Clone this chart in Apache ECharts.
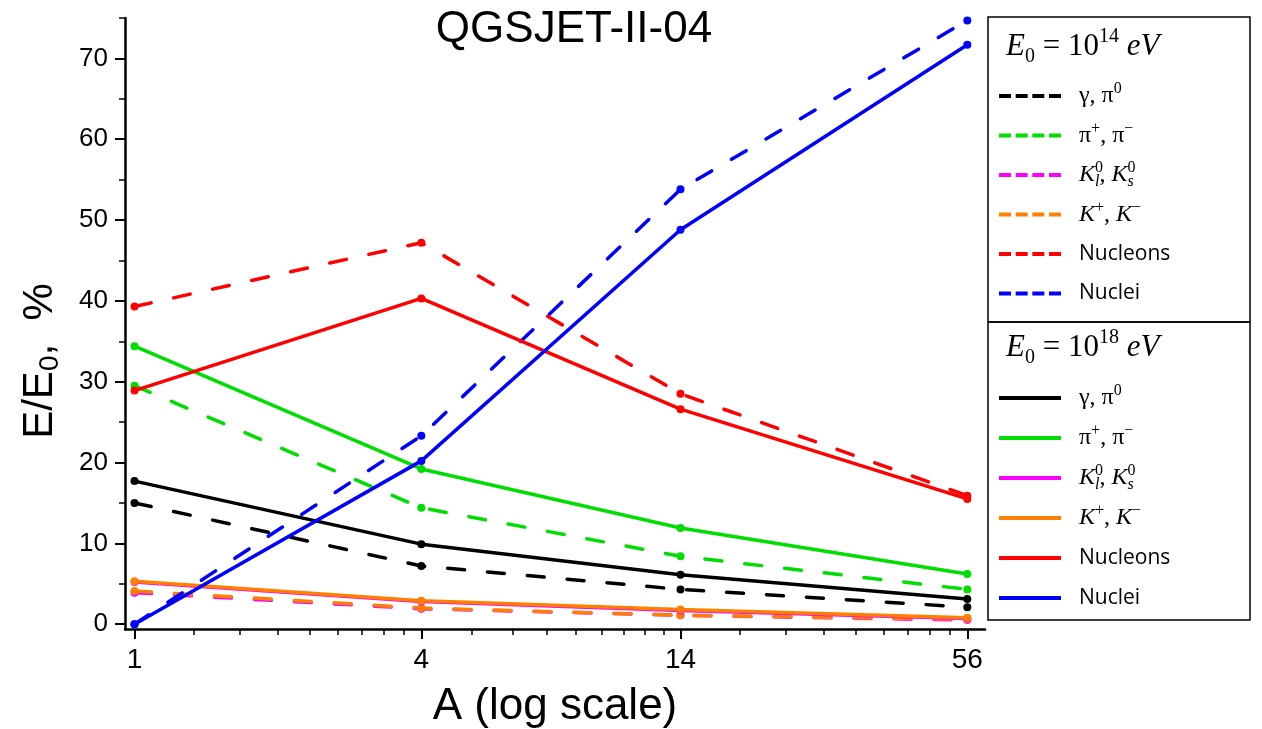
<!DOCTYPE html>
<html>
<head>
<meta charset="utf-8">
<script src="https://cdn.jsdelivr.net/npm/echarts@6/dist/echarts.min.js"></script>
<style>
html,body{margin:0;padding:0;background:#fff;}
#chart{width:1262px;height:729px;}
</style>
</head>
<body>
<div id="chart"></div>
<script>
// ---- data ----
const massNumbers = [1, 4, 14, 56];
const xTickValues = [1, 4, 14, 56];
const yTickValues = [0, 10, 20, 30, 40, 50, 60, 70];
const yMinorTickValues = [5, 15, 25, 35, 45, 55, 65, 75];

// E0 = 1e14 eV (dashed)
const gamma14 = [15.0, 7.2, 4.3, 2.1];
const pion14 = [29.5, 14.4, 8.4, 4.3];
const kaon0_14 = [3.9, 1.9, 1.1, 0.5];
const kaonC_14 = [4.1, 2.0, 1.1, 0.6];
const nucleons14 = [39.3, 47.2, 28.5, 15.9];
const nuclei14 = [0.0, 23.3, 53.8, 74.7];

// E0 = 1e18 eV (solid)
const gamma18 = [17.7, 9.9, 6.1, 3.1];
const pion18 = [34.4, 19.2, 11.9, 6.2];
const kaon0_18 = [5.2, 2.8, 1.7, 0.7];
const kaonC_18 = [5.3, 2.9, 1.8, 0.8];
const nucleons18 = [28.9, 40.3, 26.6, 15.5];
const nuclei18 = [0.0, 20.2, 48.8, 71.7];

const speciesKeys = ['g', 'pi', 'k0', 'kc', 'nucleons', 'nuclei'];
const speciesColors = ['#000000', '#00dd00', '#ff00ff', '#ff8000', '#ff0000', '#0000ff'];
const speciesLabels = [
  '{s|γ, π}{sup|0}',
  '{s|π}{sup|+}{s|, π}{sup|−}',
  '{i|K}{supz|0}{sub|l}{s|, }{i|K}{supz|0}{sub|s}',
  '{i|K}{sup|+}{s|, }{i|K}{sup|−}',
  '{ss|Nucleons}',
  '{ss|Nuclei}'
];
const data14 = [gamma14, pion14, kaon0_14, kaonC_14, nucleons14, nuclei14];
const data18 = [gamma18, pion18, kaon0_18, kaonC_18, nucleons18, nuclei18];

// ---- build ----
// minor x ticks: 9 linear subdivisions between consecutive major ticks (as in the figure)
const xMinorTickValues = [];
for (let i = 0; i < xTickValues.length - 1; i++) {
  const a = xTickValues[i], b = xTickValues[i + 1];
  for (let k = 1; k < 9; k++) xMinorTickValues.push(a + (b - a) * k / 9);
}

const dashPath = 'path://M0,0H12V4H0Z M16.67,0H28.67V4H16.67Z M33.33,0H45.33V4H33.33Z M50,0H62V4H50Z';
const labelMap = {};
const series = [];
function addSeries(vals, key, idx, suffix, dashed) {
  const name = key + suffix;
  labelMap[name] = speciesLabels[idx];
  series.push({
    name: name,
    type: 'line',
    xAxisIndex: 0,
    yAxisIndex: 0,
    data: massNumbers.map((a, i) => [a, vals[i]]),
    symbol: 'circle',
    symbolSize: 8,
    showSymbol: true,
    silent: true,
    animation: false,
    itemStyle: { color: speciesColors[idx] },
    lineStyle: {
      color: speciesColors[idx],
      width: 3.5,
      type: dashed ? [17, 23] : 'solid',
      cap: dashed ? 'round' : 'butt'
    },
    z: dashed ? 2 : 3
  });
}
speciesKeys.forEach((k, i) => addSeries(data14[i], k, i, '14', true));
speciesKeys.forEach((k, i) => addSeries(data18[i], k, i, '18', false));

const legendRich = {
  s: { fontFamily: 'Liberation Serif', fontSize: 24, lineHeight: 30, color: '#000', verticalAlign: 'middle' },
  i: { fontFamily: 'Liberation Serif', fontStyle: 'italic', fontSize: 24, lineHeight: 30, color: '#000', verticalAlign: 'middle' },
  sup: { fontFamily: 'Liberation Serif', fontSize: 16, lineHeight: 16, color: '#000', verticalAlign: 'top' },
  supz: { fontFamily: 'Liberation Serif', fontSize: 16, lineHeight: 16, width: 0, color: '#000', verticalAlign: 'top' },
  sub: { fontFamily: 'Liberation Serif', fontStyle: 'italic', fontSize: 16, lineHeight: 16, color: '#000', verticalAlign: 'bottom' },
  ss: { fontFamily: 'Open Sans', fontSize: 21, lineHeight: 30, color: '#000', verticalAlign: 'middle' }
};

function makeLegend(suffix, top, gap, iconFor) {
  return {
    orient: 'vertical',
    left: 999,
    top: top,
    padding: 0,
    itemWidth: 62,
    itemHeight: 4,
    itemGap: gap,
    selectedMode: false,
    data: speciesKeys.map(k => ({ name: k + suffix, icon: iconFor })),
    formatter: name => labelMap[name],
    textStyle: { color: '#000', padding: [0, 0, 0, 13], height: 30, lineHeight: 30, rich: legendRich }
  };
}

const headRich = {
  i: { fontFamily: 'Liberation Serif', fontStyle: 'italic', fontSize: 31, lineHeight: 40, color: '#000', verticalAlign: 'middle' },
  n: { fontFamily: 'Liberation Serif', fontSize: 31, lineHeight: 40, color: '#000', verticalAlign: 'middle' },
  sup: { fontFamily: 'Liberation Serif', fontSize: 20, lineHeight: 20, color: '#000', verticalAlign: 'top' },
  sub: { fontFamily: 'Liberation Serif', fontSize: 20, lineHeight: 20, color: '#000', verticalAlign: 'bottom' }
};

const chart = echarts.init(document.getElementById('chart'), null, { renderer: 'canvas' });
const option = {
  backgroundColor: '#ffffff',
  animation: false,
  grid: { left: 125, right: 277, top: 18, bottom: 100, containLabel: false },
  xAxis: [
    {
      type: 'log', logBase: 10, min: 0.955, max: 61, position: 'bottom',
      axisLine: { show: true, onZero: false, lineStyle: { color: '#000', width: 2.5 } },
      axisTick: { show: true, length: 10, inside: false, customValues: xTickValues, lineStyle: { color: '#000', width: 2 } },
      axisLabel: { show: true, customValues: xTickValues, margin: 17, color: '#000', fontFamily: 'Liberation Sans', fontSize: 28,
                   formatter: v => String(Math.round(v)) },
      splitLine: { show: false }, minorTick: { show: false }
    },
    {
      type: 'log', logBase: 10, min: 0.955, max: 61, gridIndex: 0, position: 'bottom', offset: 0,
      axisLine: { show: false, onZero: false },
      axisTick: { show: true, length: 6, inside: false, customValues: xMinorTickValues, lineStyle: { color: '#000', width: 1.5 } },
      axisLabel: { show: false }, splitLine: { show: false }
    }
  ],
  yAxis: [
    {
      type: 'value', min: -0.6, max: 75, position: 'left',
      axisLine: { show: true, onZero: false, lineStyle: { color: '#000', width: 2.5 } },
      axisTick: { show: true, length: 10, customValues: yTickValues, lineStyle: { color: '#000', width: 2 } },
      axisLabel: { show: true, customValues: yTickValues, margin: 17, color: '#000', fontFamily: 'Liberation Sans', fontSize: 26 },
      splitLine: { show: false }
    },
    {
      type: 'value', min: -0.6, max: 75, position: 'left', offset: 0,
      axisLine: { show: false, onZero: false },
      axisTick: { show: true, length: 6, customValues: yMinorTickValues, lineStyle: { color: '#000', width: 1.5 } },
      axisLabel: { show: false }, splitLine: { show: false }
    }
  ],
  legend: [
    makeLegend('14', 81, 9.5, dashPath),
    makeLegend('18', 383, 10, 'rect')
  ],
  graphic: [
    { type: 'rect', shape: { x: 988, y: 17, width: 262, height: 305 }, style: { fill: 'none', stroke: '#000', lineWidth: 1.5 }, silent: true },
    { type: 'rect', shape: { x: 988, y: 322, width: 262, height: 298 }, style: { fill: 'none', stroke: '#000', lineWidth: 1.5 }, silent: true },
    { type: 'text', x: 1006, y: 47, silent: true,
      style: { text: '{i|E}{sub|0}{n| = 10}{sup|14}{i| eV}', rich: headRich, textAlign: 'left', textVerticalAlign: 'middle' } },
    { type: 'text', x: 1006, y: 348, silent: true,
      style: { text: '{i|E}{sub|0}{n| = 10}{sup|18}{i| eV}', rich: headRich, textAlign: 'left', textVerticalAlign: 'middle' } },
    { type: 'text', x: 574, y: 30, silent: true,
      style: { text: 'QGSJET-II-04', fontFamily: 'Liberation Sans', fontSize: 44, fill: '#000', textAlign: 'center', textVerticalAlign: 'middle' } },
    { type: 'text', x: 555, y: 707, silent: true,
      style: { text: 'A (log scale)', fontFamily: 'Liberation Sans', fontSize: 44, fill: '#000', textAlign: 'center', textVerticalAlign: 'middle' } },
    { type: 'text', x: 40, y: 361, rotation: Math.PI / 2, silent: true,
      style: {
        text: '{a|E/E}{b|0}{a|,  %}',
        rich: {
          a: { fontFamily: 'Liberation Sans', fontSize: 42, lineHeight: 48, color: '#000', verticalAlign: 'middle' },
          b: { fontFamily: 'Liberation Sans', fontSize: 28, lineHeight: 28, color: '#000', verticalAlign: 'bottom' }
        },
        textAlign: 'center', textVerticalAlign: 'middle'
      } }
  ],
  series: series
};
chart.setOption(option);
</script>
</body>
</html>
